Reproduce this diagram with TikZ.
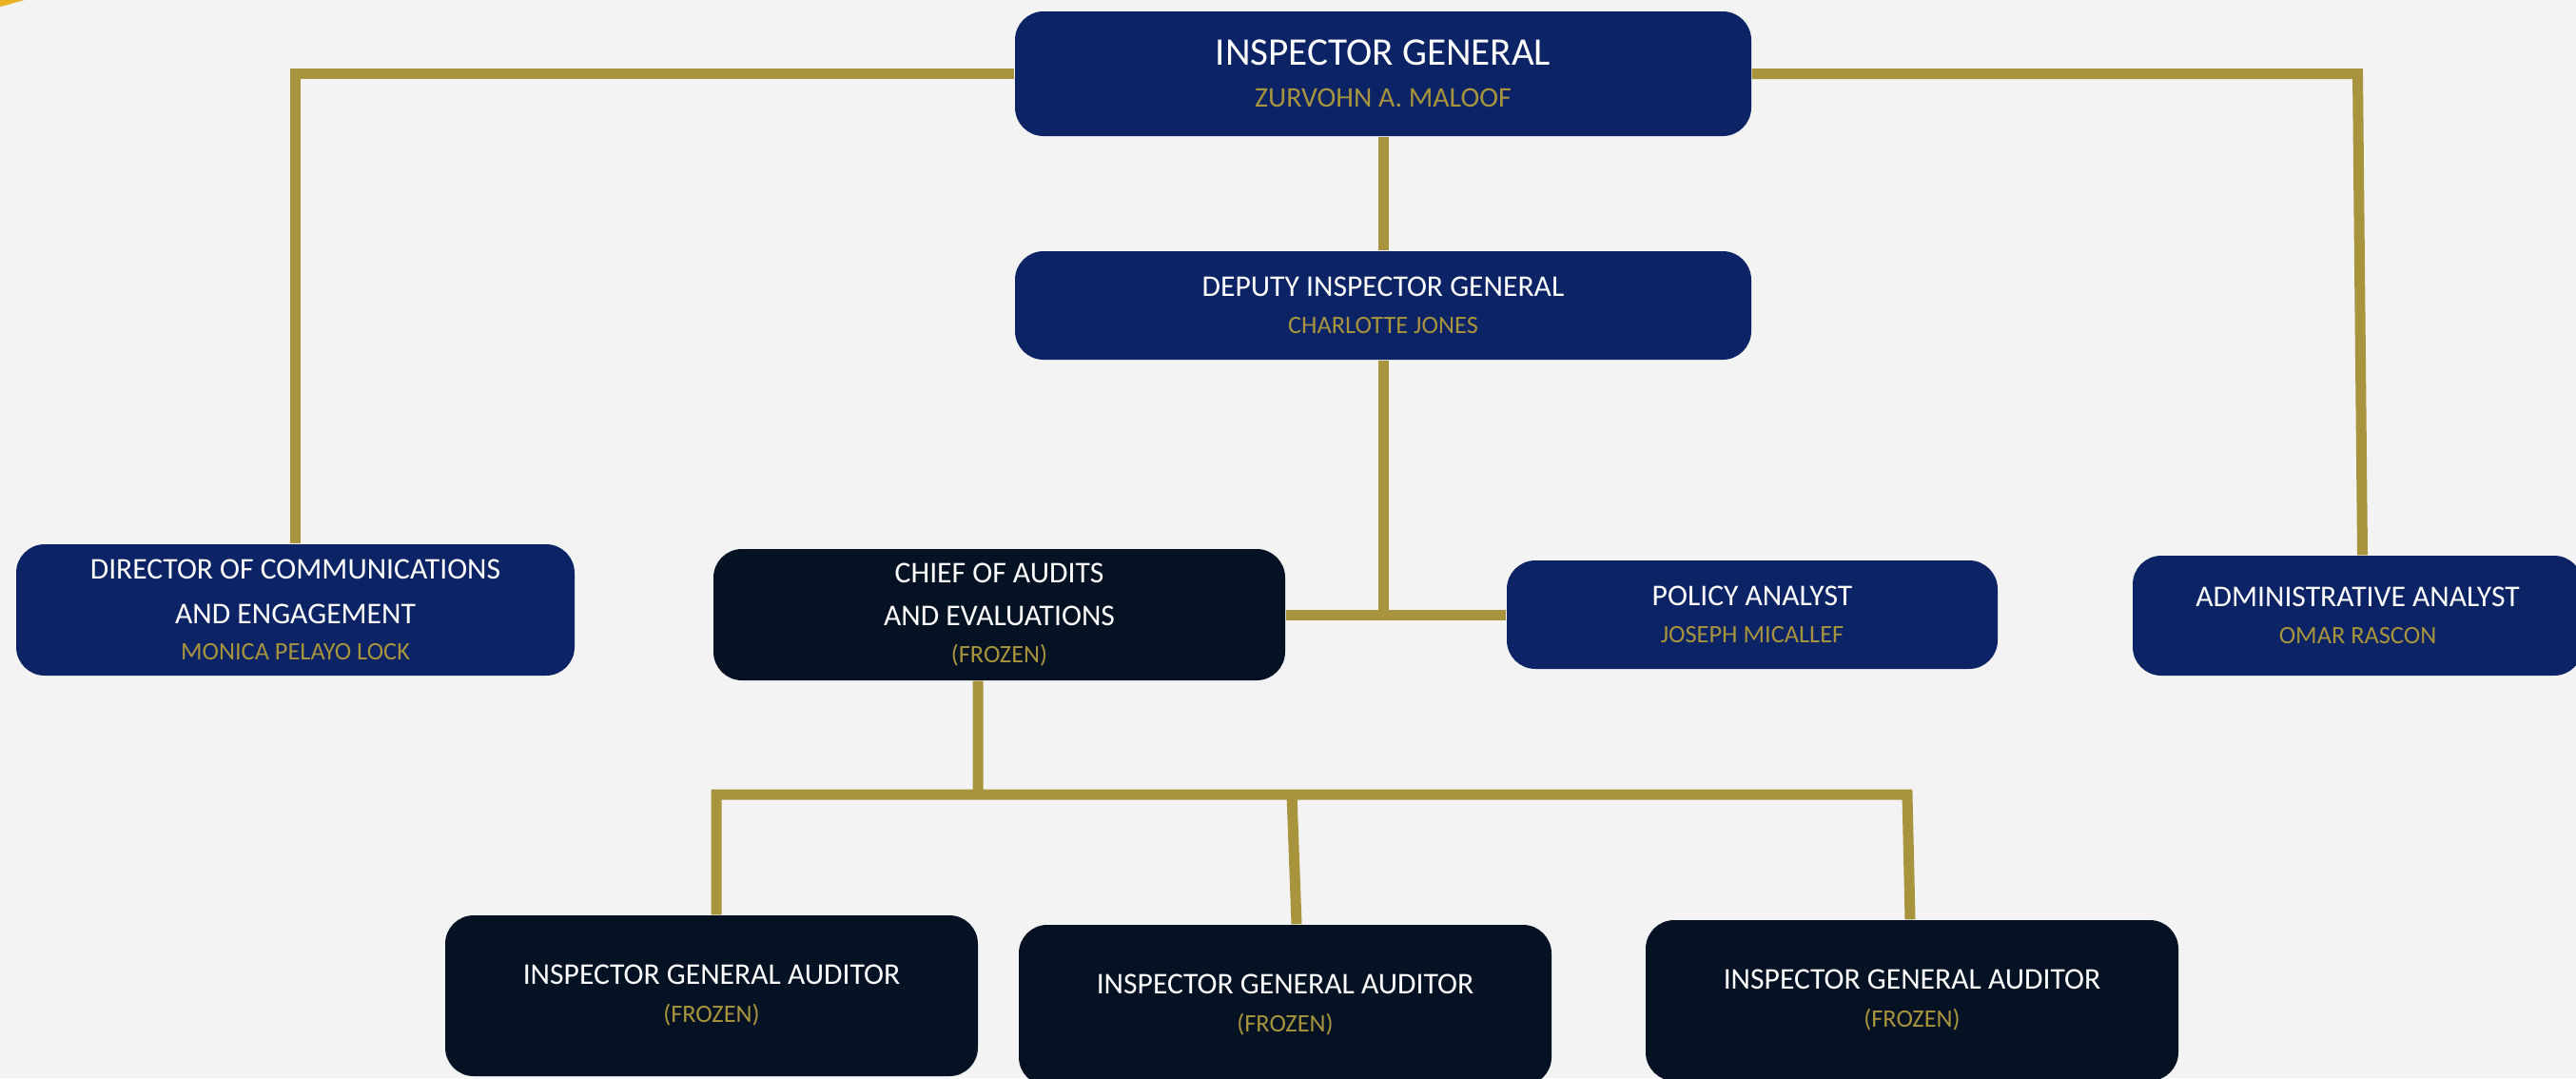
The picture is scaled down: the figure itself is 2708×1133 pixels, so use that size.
\documentclass[tikz,border=0pt]{standalone}
\usepackage{fontspec}
\setmainfont{Carlito}

\definecolor{navy}{HTML}{0C2366}
\definecolor{ink}{HTML}{051224}
\definecolor{brass}{HTML}{A8943C}
\definecolor{paper}{HTML}{F3F3F3}
\definecolor{sun}{HTML}{E8B222}
\newcommand{\who}[1]{{\color{brass}\fontsize{7.5}{9}\selectfont #1}}

\begin{document}
\begin{tikzpicture}[x=0.1mm,y=-0.1mm]
\tikzset{post/.style={rounded corners=3mm,inner sep=0pt,align=center,text=white,
                      font=\fontsize{9}{12.8}\selectfont},
         filled/.style={post,fill=navy},
         frozen/.style={post,fill=ink,minimum width=56mm,minimum height=16.9mm},
         link/.style={draw=brass,line width=1.1mm}}

\fill[paper] (0,0) rectangle (2708,1133);
\useasboundingbox (0,0) rectangle (2708,1133);
\clip (0,0) rectangle (2708,1133);
\fill[sun] (0,0) -- (0,7) .. controls (9,5) and (17,2) .. (26,0) -- cycle;

% the front office
\node[filled,minimum width=77.4mm,minimum height=13.1mm,font=\fontsize{11.7}{14}\selectfont]
    (ig) at (1454,77.5) {INSPECTOR GENERAL\\[-1.6pt]{\color{brass}\fontsize{8.5}{10}\selectfont ZURVOHN A. MALOOF}};
\node[filled,minimum width=77.4mm,minimum height=11.4mm] (dig) at (1454,321)
    {DEPUTY INSPECTOR GENERAL\\[-1.8pt]\who{CHARLOTTE JONES}};

% staff row
\node[filled,minimum width=58.7mm,minimum height=13.8mm] (dce) at (310.5,641)
    {DIRECTOR OF COMMUNICATIONS\\[0.4pt]AND ENGAGEMENT\\[-1.8pt]\who{MONICA PELAYO LOCK}};
\node[frozen,minimum width=60.1mm,minimum height=13.8mm] (cae) at (1050.5,646)
    {CHIEF OF AUDITS\\AND EVALUATIONS\\[-1.6pt]\who{(FROZEN)}};
\node[filled,minimum width=51.6mm,minimum height=11.4mm] (pa) at (1842,646)
    {POLICY ANALYST\\[-1.8pt]\who{JOSEPH MICALLEF}};
\node[filled,minimum width=47.3mm,minimum height=12.6mm] (aa) at (2478.5,647)
    {ADMINISTRATIVE ANALYST\\[-1.8pt]\who{OMAR RASCON}};

% auditors under the chief
\foreach \n/\x/\y in {a1/748/1046.5, a2/1351/1056.5, a3/2010/1051.5}
    \node[frozen] (\n) at (\x,\y) {INSPECTOR GENERAL AUDITOR\\[-1.4pt]\who{(FROZEN)}};

% reporting lines
\draw[link] (ig.west) -| (dce.north);
\draw[link] (ig.east) -- (ig.east -| aa.north) -- ([xshift=0.5mm]aa.north);
\draw[link] (ig) -- (dig);
\draw[link] (dig.south) -- (dig.south |- pa.west);
\draw[link] (cae) -- (pa);

\coordinate (bus) at (1028,835);
\draw[link] ([xshift=-2.25mm]cae.south) -- (bus);
\draw[link] ([xshift=0.5mm]a1.north) |- (2005,835) -- ([xshift=-0.2mm]a3.north);
\draw[link] (1358,835) -- ([xshift=1.2mm]a2.north);
\end{tikzpicture}
\end{document}
